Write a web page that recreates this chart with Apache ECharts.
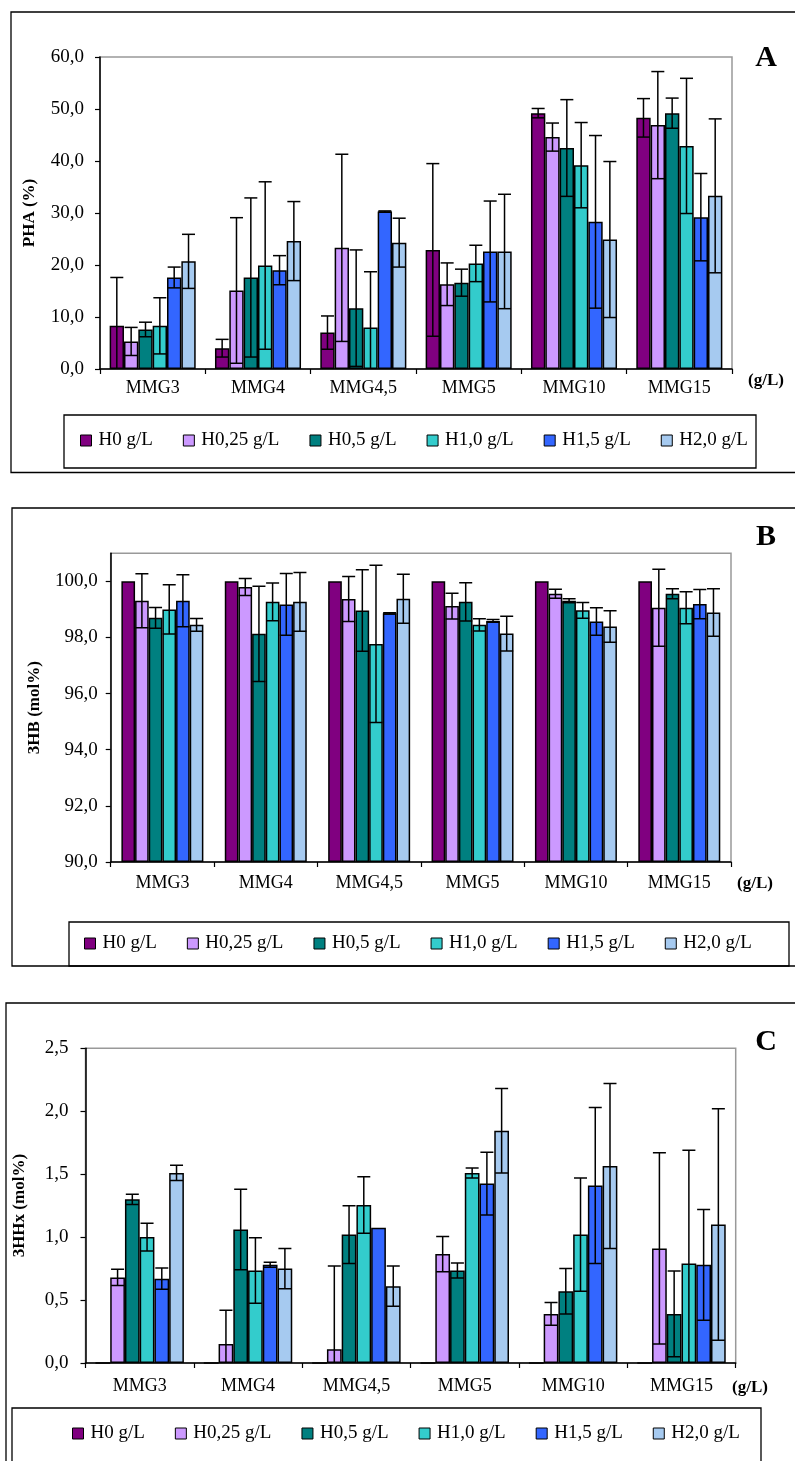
<!DOCTYPE html>
<html>
<head>
<meta charset="utf-8">
<script src="https://cdn.jsdelivr.net/npm/echarts@6/dist/echarts.min.js"></script>
<style>
  html, body { margin: 0; padding: 0; background: #fff; }
  #chart { width: 795px; height: 1461px; }
</style>
</head>
<body>
<div id="chart"></div>
<script>
// Media groups (x categories) and hydrolysate levels (series)
const categories = ['MMG3', 'MMG4', 'MMG4,5', 'MMG5', 'MMG10', 'MMG15'];
const seriesNames = ['H0 g/L', 'H0,25 g/L', 'H0,5 g/L', 'H1,0 g/L', 'H1,5 g/L', 'H2,0 g/L'];
const colors = ['#800080', '#CC99FF', '#008080', '#33CCCC', '#3366FF', '#A6CAF0'];

// Panel A – PHA content (%), mean and standard deviation per level
const phaH0   = [8.3, 4.0, 7.0, 22.9, 49.2, 48.3];
const phaH025 = [5.3, 15.1, 23.3, 16.3, 44.6, 46.9];
const phaH05  = [7.6, 17.6, 11.7, 16.6, 42.5, 49.2];
const phaH10  = [8.3, 19.9, 8.0, 20.3, 39.2, 42.9];
const phaH15  = [17.6, 19.0, 30.3, 22.6, 28.3, 29.2];
const phaH20  = [20.7, 24.6, 24.3, 22.6, 24.9, 33.3];
const phaErrH0   = [9.3, 1.7, 3.2, 16.6, 0.9, 3.7];
const phaErrH025 = [2.7, 14.0, 18.0, 4.1, 2.7, 10.3];
const phaErrH05  = [1.4, 15.3, 11.2, 2.6, 9.3, 2.9];
const phaErrH10  = [5.4, 16.1, 10.7, 3.5, 8.2, 13.0];
const phaErrH15  = [2.0, 2.8, 0.1, 9.7, 16.6, 8.4];
const phaErrH20  = [5.2, 7.6, 4.7, 11.0, 15.0, 14.8];

// Panel B – 3HB fraction (mol%)
const hbH0   = [100, 100, 100, 100, 100, 100];
const hbH025 = [99.31, 99.80, 99.37, 99.12, 99.56, 99.06];
const hbH05  = [98.70, 98.13, 98.96, 99.27, 99.31, 99.56];
const hbH10  = [99.00, 99.27, 97.77, 98.45, 98.97, 99.06];
const hbH15  = [99.31, 99.18, 98.86, 98.59, 98.57, 99.19];
const hbH20  = [98.45, 99.27, 99.38, 98.14, 98.39, 98.89];
const hbErrH0   = [0, 0, 0, 0, 0, 0];
const hbErrH025 = [0.96, 0.30, 0.80, 0.46, 0.16, 1.37];
const hbErrH05  = [0.37, 1.70, 1.45, 0.68, 0.07, 0.18];
const hbErrH10  = [0.88, 0.67, 2.80, 0.22, 0.28, 0.57];
const hbErrH15  = [0.93, 1.10, 0.02, 0.05, 0.49, 0.52];
const hbErrH20  = [0.23, 1.05, 0.87, 0.62, 0.56, 0.85];

// Panel C – 3HHx fraction (mol%)
const hhxH0   = [0, 0, 0, 0, 0, 0];
const hhxH025 = [0.68, 0.15, 0.11, 0.865, 0.39, 0.91];
const hhxH05  = [1.30, 1.06, 1.02, 0.735, 0.57, 0.39];
const hhxH10  = [1.00, 0.735, 1.255, 1.51, 1.02, 0.79];
const hhxH15  = [0.67, 0.78, 1.075, 1.425, 1.41, 0.78];
const hhxH20  = [1.51, 0.75, 0.61, 1.845, 1.565, 1.10];
const hhxErrH0   = [0, 0, 0, 0, 0, 0];
const hhxErrH025 = [0.065, 0.27, 0.66, 0.14, 0.09, 0.76];
const hhxErrH05  = [0.04, 0.32, 0.23, 0.06, 0.18, 0.34];
const hhxErrH10  = [0.11, 0.26, 0.225, 0.04, 0.45, 0.90];
const hhxErrH15  = [0.085, 0.02, 0, 0.25, 0.62, 0.44];
const hhxErrH20  = [0.06, 0.16, 0.16, 0.335, 0.655, 0.92];

// Y-axis tick labels
const phaTicks = [0, 10, 20, 30, 40, 50, 60];
const hbTicks = [90, 92, 94, 96, 98, 100];
const hhxTicks = [0, 0.5, 1.0, 1.5, 2.0, 2.5];

const FONT = 'Liberation Serif';

const panels = [
  {
    means: [phaH0, phaH025, phaH05, phaH10, phaH15, phaH20],
    errs: [phaErrH0, phaErrH025, phaErrH05, phaErrH10, phaErrH15, phaErrH20],
    grid: { left: 100, top: 57, width: 632, height: 312 },
    y: { min: 0, max: 60, ticks: phaTicks, name: 'PHA (%)', nameGap: 62, labelMargin: 16 },
    gap: 0.183, catMargin: 10
  },
  {
    means: [hbH0, hbH025, hbH05, hbH10, hbH15, hbH20],
    errs: [hbErrH0, hbErrH025, hbErrH05, hbErrH10, hbErrH15, hbErrH20],
    grid: { left: 110.7, top: 553.3, width: 620.3, height: 308.7 },
    y: { min: 90, max: 101, ticks: hbTicks, name: '3HB (mol%)', nameGap: 68, labelMargin: 13 },
    gap: 0.207, catMargin: 12
  },
  {
    means: [hhxH0, hhxH025, hhxH05, hhxH10, hhxH15, hhxH20],
    errs: [hhxErrH0, hhxErrH025, hhxErrH05, hhxErrH10, hhxErrH15, hhxErrH20],
    grid: { left: 85.5, top: 1048.3, width: 650.2, height: 314.7 },
    y: { min: 0, max: 2.5, ticks: hhxTicks, name: '3HHx (mol%)', nameGap: 57, labelMargin: 17 },
    gap: 0.184, catMargin: 14
  }
];

const fmt = v => Number(v).toFixed(1).replace('.', ',');

const grids = [], xAxes = [], yAxes = [], series = [];

panels.forEach((p, pi) => {
  grids.push(Object.assign({
    show: true, borderColor: '#999', borderWidth: 1.5,
    backgroundColor: 'transparent', containLabel: false
  }, p.grid));

  xAxes.push({
    type: 'category', gridIndex: pi, data: categories,
    boundaryGap: true,
    axisLine: { lineStyle: { color: '#000', width: 1.5 } },
    axisTick: { show: true, length: 5, lineStyle: { color: '#000', width: 1.2 } },
    axisLabel: { color: '#000', fontFamily: FONT, fontSize: 18, margin: p.catMargin }
  });

  yAxes.push({
    type: 'value', gridIndex: pi, min: p.y.min, max: p.y.max,
    startValue: p.y.min,
    name: p.y.name, nameLocation: 'middle', nameRotate: 90, nameGap: p.y.nameGap,
    nameTextStyle: { color: '#000', fontFamily: FONT, fontSize: 17, fontWeight: 'bold' },
    axisLine: { show: true, lineStyle: { color: '#000', width: 1.5 } },
    axisTick: { show: true, length: 5, customValues: p.y.ticks, lineStyle: { color: '#000', width: 1.2 } },
    axisLabel: { color: '#000', fontFamily: FONT, fontSize: 19, margin: p.y.labelMargin,
                 customValues: p.y.ticks, formatter: fmt },
    splitLine: { show: false }
  });

  const gap = p.gap;
  const yMin = p.y.min;

  seriesNames.forEach((name, si) => {
    series.push({
      type: 'bar', name: name, xAxisIndex: pi, yAxisIndex: pi,
      data: p.means[si],
      barGap: '0%', barCategoryGap: (gap * 100).toFixed(1) + '%',
      itemStyle: { color: colors[si], borderColor: '#000', borderWidth: 1.5 },
      emphasis: { disabled: true },
      clip: true, z: 2
    });
  });

  // standard deviation whiskers, centred on each bar
  seriesNames.forEach((name, si) => {
    const data = categories.map((c, ci) => [ci, p.means[si][ci], p.errs[si][ci]]);
    series.push({
      type: 'custom', name: name, xAxisIndex: pi, yAxisIndex: pi,
      data: data, z: 5, clip: true, silent: true,
      encode: { x: 0, y: 1 },
      renderItem: function (params, api) {
        const ci = api.value(0), v = api.value(1), e = api.value(2);
        if (!(e > 0)) return null;
        const catW = api.size([1, 0])[0];
        const barW = catW * (1 - gap) / seriesNames.length;
        const cx = api.coord([ci, v])[0] + (si - (seriesNames.length - 1) / 2) * barW;
        const yTop = api.coord([ci, v + e])[1];
        const lowV = v - e;
        const clipped = lowV < yMin;
        const yLow = api.coord([ci, clipped ? yMin : lowV])[1];
        const half = 6.5;
        const st = { stroke: '#000', lineWidth: 1.5, fill: null };
        const children = [
          { type: 'line', shape: { x1: cx, y1: yTop, x2: cx, y2: yLow }, style: st },
          { type: 'line', shape: { x1: cx - half, y1: yTop, x2: cx + half, y2: yTop }, style: st }
        ];
        if (!clipped) {
          children.push({ type: 'line', shape: { x1: cx - half, y1: yLow, x2: cx + half, y2: yLow }, style: st });
        }
        return { type: 'group', children: children };
      }
    });
  });
});

const legendBase = {
  orient: 'horizontal', padding: 0,
  icon: 'rect', itemWidth: 11, itemHeight: 11,
  itemStyle: { borderColor: '#000', borderWidth: 1 },
  textStyle: { color: '#000', fontFamily: FONT, fontSize: 19, padding: [0, 0, 0, 2] },
  selectedMode: false,
  data: seriesNames
};

const legends = [
  Object.assign({}, legendBase, { left: 80, top: 431, itemGap: 30 }),
  Object.assign({}, legendBase, { left: 84, top: 934, itemGap: 30 }),
  Object.assign({}, legendBase, { left: 72, top: 1424, itemGap: 30 })
];

const boxStyle = { stroke: '#000', lineWidth: 1.3, fill: 'none' };
const txt = (text, x, y, size, bold, align) => ({
  type: 'text', x: x, y: y, silent: true,
  style: { text: text, fill: '#000', font: (bold ? 'bold ' : '') + size + 'px "' + FONT + '"',
           align: align || 'center', verticalAlign: 'middle' }
});

const graphics = [
  // panel frames
  { type: 'rect', shape: { x: 11, y: 12, width: 800, height: 460.5 }, style: boxStyle, silent: true },
  { type: 'rect', shape: { x: 12, y: 508, width: 800, height: 458 }, style: boxStyle, silent: true },
  { type: 'rect', shape: { x: 6, y: 1003, width: 800, height: 470 }, style: boxStyle, silent: true },
  // legend frames
  { type: 'rect', shape: { x: 64, y: 415, width: 692, height: 53 }, style: boxStyle, silent: true },
  { type: 'rect', shape: { x: 69, y: 922, width: 720, height: 44 }, style: boxStyle, silent: true },
  { type: 'rect', shape: { x: 12, y: 1408, width: 749, height: 70 }, style: boxStyle, silent: true },
  // panel letters
  txt('A', 766, 58, 30, true),
  txt('B', 766, 537, 30, true),
  txt('C', 766, 1042, 30, true),
  // unit of the category axis
  txt('(g/L)', 766, 381, 17, true),
  txt('(g/L)', 755, 884, 17, true),
  txt('(g/L)', 750, 1388, 17, true)
];

const chart = echarts.init(document.getElementById('chart'), null, { renderer: 'canvas' });
chart.setOption({
  backgroundColor: '#fff',
  animation: false,
  grid: grids,
  xAxis: xAxes,
  yAxis: yAxes,
  legend: legends,
  series: series,
  graphic: graphics
});
</script>
</body>
</html>
